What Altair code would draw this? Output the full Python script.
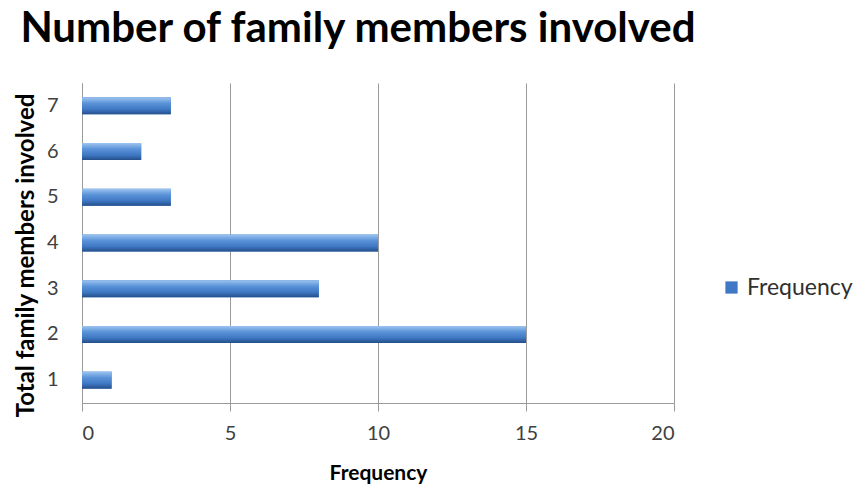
import altair as alt
import pandas as pd

members = ["1", "2", "3", "4", "5", "6", "7"]
frequency = [1, 15, 8, 10, 3, 2, 3]
series = ["Frequency"] * len(members)

df = pd.DataFrame({"members": members, "frequency": frequency, "series": series})

grad = alt.Gradient(
    gradient="linear",
    stops=[
        alt.GradientStop(color="#9cc4f0", offset=0),
        alt.GradientStop(color="#5b93d8", offset=0.35),
        alt.GradientStop(color="#3f78c4", offset=0.7),
        alt.GradientStop(color="#244f8a", offset=1),
    ],
    x1=0, x2=0, y1=0, y2=1,
)

y_enc = alt.Y(
    "members:N",
    sort=members[::-1],
    title="Total family members involved",
    axis=alt.Axis(
        labelFont="Lato", labelFontSize=20, labelColor="#404040", labelPadding=24,
        ticks=False, domainColor="#9a9a9a", titleFont="Lato", titleFontSize=24,
        titleFontWeight="bold", titleColor="#000000", titlePadding=8, labelAngle=0,
        titleY=172,
    ),
    scale=alt.Scale(paddingInner=0.6, paddingOuter=0.3),
)
x_enc = alt.X(
    "frequency:Q",
    title="Frequency",
    scale=alt.Scale(domain=[0, 20]),
    axis=alt.Axis(
        values=[0, 5, 10, 15, 20], labelFont="Lato", labelFontSize=20, labelColor="#404040",
        tickSize=8, tickColor="#9a9a9a", domainColor="#9a9a9a", gridColor="#9a9a9a",
        labelPadding=12, titleFont="Lato", titleFontSize=21, titleFontWeight="bold",
        titleColor="#000000", titlePadding=19,
    ),
)

base = alt.Chart(df)
legend_bars = base.mark_bar(size=17).encode(
    x=x_enc, y=y_enc,
    color=alt.Color(
        "series:N", title=None,
        scale=alt.Scale(range=["#3f78c4"]),
        legend=alt.Legend(
            orient="none", legendX=638, legendY=193, symbolType="square", symbolSize=150,
            labelFont="Lato", labelFontSize=23, labelColor="#303030", symbolStrokeWidth=0,
        ),
    ),
)
grad_bars = base.mark_bar(size=17, color=grad).encode(x=x_enc, y=y_enc)

chart = (
    alt.layer(legend_bars, grad_bars)
    .properties(
        width=592, height=320,
        title=alt.TitleParams(
            "Number of family members involved", font="Lato", fontSize=42,
            fontWeight="bold", color="#000000", anchor="start", dx=6, offset=32,
        ),
        autosize=alt.AutoSizeParams(type="none"),
        padding={"left": 82, "top": 83, "right": 181, "bottom": 84},
    )
    .configure_view(stroke=None)
    .configure_axis(grid=True)
    .configure_axisY(grid=False)
)

chart.save("out.html", embed_options={"renderer": "svg", "actions": False})
